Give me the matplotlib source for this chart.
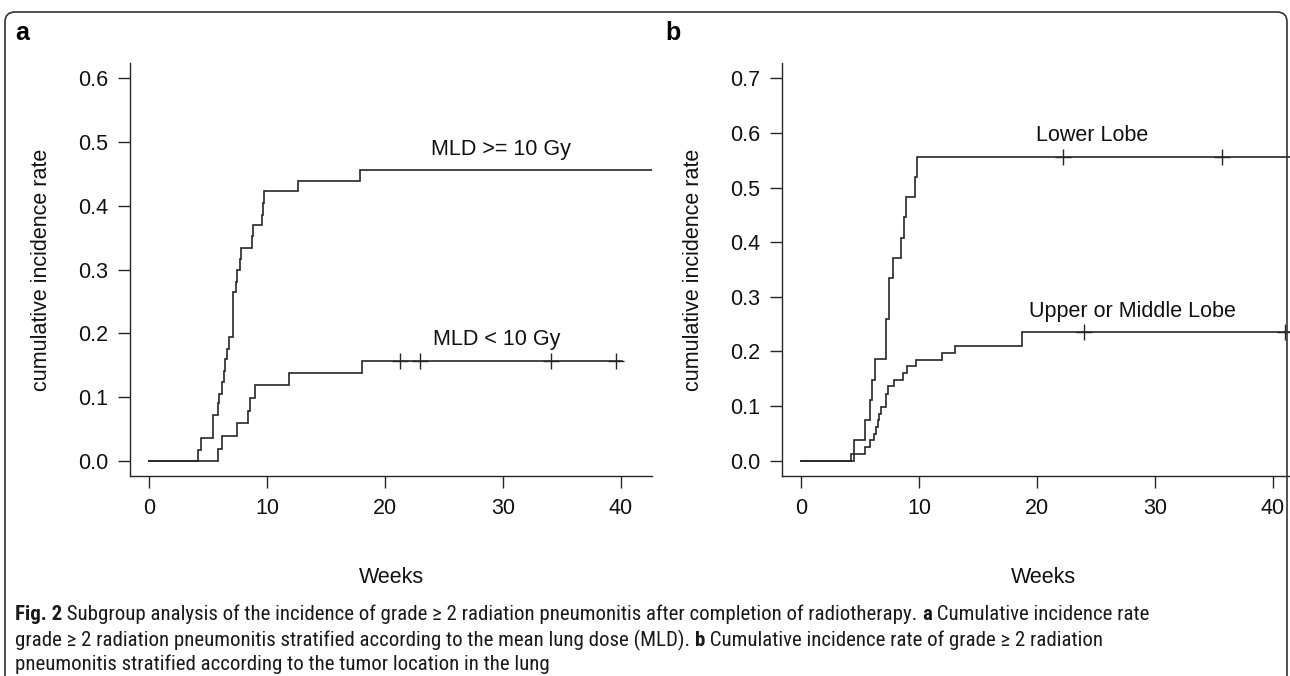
import numpy as np
import matplotlib
matplotlib.use('Agg')
import matplotlib.pyplot as plt
from matplotlib.patches import FancyBboxPatch
from matplotlib.transforms import IdentityTransform
from matplotlib import font_manager as fm

# ---------------- data ----------------
weeks_ticks = [0, 10, 20, 30, 40]
yticks_a = [0.0, 0.1, 0.2, 0.3, 0.4, 0.5, 0.6]
yticks_b = [0.0, 0.1, 0.2, 0.3, 0.4, 0.5, 0.6, 0.7]

# Panel a: MLD >= 10 Gy
mld_hi_times = [4.1, 4.4, 5.4, 5.8, 5.9, 6.16, 6.3, 6.44, 6.58, 6.75, 7.12, 7.34, 7.46,
                7.68, 7.8, 8.7, 8.8, 9.55, 9.63, 9.75, 12.6, 17.9]
mld_hi_vals = [0.017, 0.035, 0.071, 0.09, 0.105, 0.123, 0.14, 0.159, 0.176, 0.194, 0.264,
               0.28, 0.299, 0.316, 0.334, 0.352, 0.37, 0.386, 0.404, 0.4225, 0.439, 0.456]
mld_hi_end = 44.0
mld_hi_censor = []

# Panel a: MLD < 10 Gy
mld_lo_times = [5.8, 6.16, 7.43, 8.33, 8.56, 8.98, 11.84, 18.0]
mld_lo_vals = [0.019, 0.039, 0.059, 0.078, 0.098, 0.118, 0.138, 0.157]
mld_lo_end = 40.1
mld_lo_censor = [21.3, 23.0, 34.1, 39.6]

# Panel b: Lower Lobe
lower_times = [4.43, 5.4, 5.85, 6.0, 6.21, 7.18, 7.46, 7.74, 8.45, 8.7, 8.84, 9.6, 9.77]
lower_vals = [0.037, 0.074, 0.111, 0.148, 0.186, 0.26, 0.334, 0.371, 0.408, 0.446,
              0.483, 0.52, 0.556]
lower_end = 44.0
lower_censor = [22.2, 35.7]

# Panel b: Upper or Middle Lobe
upper_times = [4.21, 5.42, 5.79, 6.19, 6.33, 6.47, 6.61, 6.78, 7.18, 7.37, 7.82, 8.62,
               9.0, 9.7, 11.9, 13.0, 18.7]
upper_vals = [0.012, 0.025, 0.037, 0.049, 0.062, 0.074, 0.086, 0.099, 0.123, 0.136,
              0.148, 0.16, 0.173, 0.185, 0.198, 0.21, 0.235]
upper_end = 44.0
upper_censor = [24.0, 41.0]

label_hi = "MLD >= 10 Gy"
label_lo = "MLD < 10 Gy"
label_lower = "Lower Lobe"
label_upper = "Upper or Middle Lobe"

caption_lines = [
    [("Fig. 2", True),
     (" Subgroup analysis of the incidence of grade \u2265 2 radiation pneumonitis after completion of radiotherapy. ", False),
     ("a", True), (" Cumulative incidence rate", False)],
    [("grade \u2265 2 radiation pneumonitis stratified according to the mean lung dose (MLD). ", False),
     ("b", True), (" Cumulative incidence rate of grade \u2265 2 radiation", False)],
    [("pneumonitis stratified according to the tumor location in the lung", False)],
]

# ---------------- style ----------------
names = {f.name for f in fm.fontManager.ttflist}
cap_font, cap_stretch = 'DejaVu Sans', 'condensed'
for cand in ['Liberation Sans Narrow', 'DejaVu Sans Condensed', 'Roboto Condensed',
             'Open Sans Condensed', 'Noto Sans Condensed']:
    if cand in names:
        cap_font, cap_stretch = cand, 'normal'
        break
plt.rcParams['font.family'] = ['Liberation Sans', 'DejaVu Sans']

W, H = 1290, 676
fig = plt.figure(figsize=(W / 100, H / 100), dpi=100)


def box(l, r, t, b):
    return [l / W, 1 - b / H, (r - l) / W, (b - t) / H]


LC = '#262626'
FS = 15.5


def style_axes(ax, yticks):
    for s in ['top', 'right']:
        ax.spines[s].set_visible(False)
    for s in ['left', 'bottom']:
        ax.spines[s].set_color(LC)
        ax.spines[s].set_linewidth(1.0)
    ax.set_xticks(weeks_ticks)
    ax.set_yticks(yticks)
    ax.set_yticklabels([f"{v:.1f}" for v in yticks])
    ax.tick_params(direction='out', length=8.6, width=1.0, color=LC,
                   labelsize=FS, labelcolor='#111111')
    ax.tick_params(axis='x', pad=7)
    ax.tick_params(axis='y', pad=7)
    ax.set_xlabel("Weeks", fontsize=FS, color='#111111', va='center')
    ax.xaxis.set_label_coords(0.5, -0.245)
    ax.set_ylabel("cumulative incidence rate", fontsize=FS, color='#111111', va='center')
    ax.yaxis.set_label_coords(-0.169, 0.5)


def draw_curve(ax, times, vals, end, censor):
    t = np.array([0.0] + list(times) + [end])
    v = np.array([0.0] + list(vals) + [vals[-1]])
    ax.step(t, v, where='post', color=LC, lw=1.2, solid_joinstyle='miter')
    if censor:
        idx = np.searchsorted(t, censor, side='right') - 1
        ax.plot(censor, v[idx], linestyle='none', marker='+', markersize=12,
                mew=1.0, color=LC)


# Panel a
ax_a = fig.add_axes(box(130, 652, 63, 476))
ax_a.set_xlim(-1.64, 42.64)
ax_a.set_ylim(-0.024, 0.624)
style_axes(ax_a, yticks_a)
draw_curve(ax_a, mld_hi_times, mld_hi_vals, mld_hi_end, mld_hi_censor)
draw_curve(ax_a, mld_lo_times, mld_lo_vals, mld_lo_end, mld_lo_censor)
ax_a.text(29.8, 0.48, label_hi, fontsize=FS, ha='center', va='baseline', color='#111111')
ax_a.text(29.5, 0.181, label_lo, fontsize=FS, ha='center', va='baseline', color='#111111')

# Panel b
ax_b = fig.add_axes(box(782, 1304, 63, 476))
ax_b.set_xlim(-1.64, 42.64)
ax_b.set_ylim(-0.028, 0.728)
style_axes(ax_b, yticks_b)
draw_curve(ax_b, lower_times, lower_vals, lower_end, lower_censor)
draw_curve(ax_b, upper_times, upper_vals, upper_end, upper_censor)
ax_b.text(24.7, 0.585, label_lower, fontsize=FS, ha='center', va='baseline', color='#111111')
ax_b.text(28.1, 0.263, label_upper, fontsize=FS, ha='center', va='baseline', color='#111111')

# Panel letters
fig.text(15 / W, 1 - 33 / H, "a", fontsize=18, fontweight='bold', va='center', ha='left')
fig.text(665 / W, 1 - 33 / H, "b", fontsize=18, fontweight='bold', va='center', ha='left')

# Border (bottom edge lies below the visible area)
border = FancyBboxPatch((5, -20), 1282, 684, boxstyle="round,pad=0,rounding_size=10",
                        transform=IdentityTransform(), fill=False, edgecolor='#333333',
                        linewidth=1.2)
fig.patches.append(border)

# Caption
renderer = fig.canvas.get_renderer()
cap_fs = 13.0
cap_family = [cap_font, 'DejaVu Sans']


def make_text(x, y, txt, bold, fs):
    return fig.text(x, y, txt, fontsize=fs, family=cap_family, fontstretch=cap_stretch,
                    fontweight='bold' if bold else 'normal', va='center', ha='left',
                    color='#1a1a1a')


def line_width(pieces, fs):
    total = 0
    for txt, bold in pieces:
        t = make_text(0, 0, txt, bold, fs)
        total += t.get_window_extent(renderer).width
        t.remove()
    return total


w0 = line_width(caption_lines[0], cap_fs)
cap_fs = cap_fs * 1135 / w0

line_y = [614, 640, 664]
for pieces, yy in zip(caption_lines, line_y):
    x = 15
    for txt, bold in pieces:
        t = make_text(x / W, 1 - yy / H, txt, bold, cap_fs)
        x += t.get_window_extent(renderer).width

fig.savefig('out.png', dpi=100)
